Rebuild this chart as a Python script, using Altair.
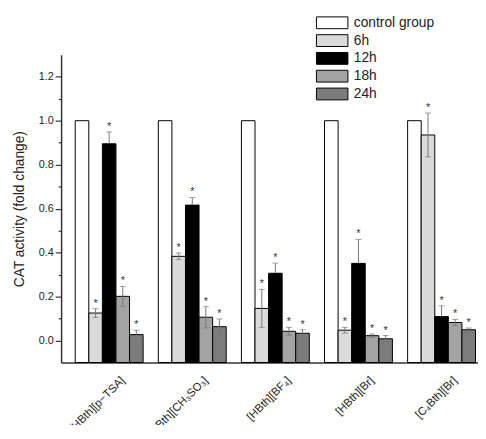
import altair as alt
import pandas as pd

groups = ["[HBth][p−TSA]", "[HBth][CH₃SO₃]", "[HBth][BF₄]", "[HBth][Br]", "[C₄Bth][Br]"]
series = ["control group", "6h", "12h", "18h", "24h"]
colors = ["#ffffff", "#dadada", "#000000", "#a3a3a3", "#7c7c7c"]

control = [1.0, 1.0, 1.0, 1.0, 1.0]
control_err = [0.0, 0.0, 0.0, 0.0, 0.0]
h6 = [0.125, 0.383, 0.146, 0.047, 0.935]
h6_err = [0.020, 0.015, 0.087, 0.013, 0.100]
h12 = [0.895, 0.616, 0.306, 0.351, 0.109]
h12_err = [0.054, 0.035, 0.046, 0.109, 0.049]
h18 = [0.201, 0.106, 0.042, 0.022, 0.082]
h18_err = [0.045, 0.048, 0.018, 0.007, 0.014]
h24 = [0.027, 0.063, 0.033, 0.008, 0.049]
h24_err = [0.020, 0.035, 0.016, 0.015, 0.008]

y_ticks = [0.0, 0.1, 0.2, 0.3, 0.4, 0.5, 0.6, 0.7, 0.8, 0.9, 1.0, 1.1, 1.2]

values = [control, h6, h12, h18, h24]
errors = [control_err, h6_err, h12_err, h18_err, h24_err]
rows = []
for gi, g in enumerate(groups):
    for s, v, e in zip(series, values, errors):
        rows.append({"group": g, "series": s, "value": v[gi], "err": e[gi],
                     "lo": v[gi] - e[gi], "hi": v[gi] + e[gi]})
df = pd.DataFrame(rows)

FONT = "Liberation Sans"
YTITLE = "CAT activity (fold change)"

x_enc = alt.X("group:N", sort=groups, title=None,
              scale=alt.Scale(paddingInner=0.183, paddingOuter=0.1, align=0.85),
              axis=alt.Axis(labelAngle=-45, labelFontSize=11.5, labelFont=FONT, labelColor="#222",
                            ticks=False, domain=True, domainColor="#333", domainWidth=1.5,
                            labelPadding=12, labelOffset=10))
xo_enc = alt.XOffset("series:N", sort=series,
                     scale=alt.Scale(domain=series, paddingInner=0, paddingOuter=0))
y_scale = alt.Scale(domain=[-0.1, 1.3], nice=False, zero=False)
y_axis = alt.Axis(values=y_ticks, grid=False, domain=True, domainColor="#333", domainWidth=1.5,
                  tickColor="#333", tickWidth=1.2,
                  tickSize={"condition": {"test": "round(datum.value*10) % 2 == 1", "value": 3}, "value": 6},
                  labelExpr="round(datum.value*10) % 2 == 0 ? format(datum.value, '.1f') : ''",
                  labelFontSize=11, labelFont=FONT, labelColor="#222", labelPadding=2,
                  titleFontSize=14, titleFont=FONT, titleFontWeight="normal",
                  titleColor="#222", titlePadding=12)

base = alt.Chart(df).encode(x=x_enc, xOffset=xo_enc)

bars = base.mark_bar(stroke="black", strokeWidth=1).encode(
    y=alt.Y("value:Q", scale=y_scale, title=YTITLE, axis=y_axis),
    y2=alt.datum(-0.1),
    fill=alt.Fill("series:N", sort=series, scale=alt.Scale(domain=series, range=colors),
                  legend=alt.Legend(orient="none", legendX=258.7, legendY=-39.5, title=None,
                                    padding=0, symbolType="M-1,-1H4.333V1H-1Z", symbolSize=144,
                                    symbolStrokeColor="black", symbolStrokeWidth=1,
                                    symbolOpacity=1, labelFontSize=14, labelFont=FONT,
                                    labelColor="#222", labelOffset=25, rowPadding=2.1)),
)

err = base.transform_filter(alt.datum.err > 0)
upper = err.mark_rule(color="#777", strokeWidth=1).encode(
    y=alt.Y("value:Q", scale=y_scale, title=YTITLE, axis=y_axis), y2="hi:Q")
lower = err.mark_rule(strokeWidth=1).encode(
    y=alt.Y("lo:Q", scale=y_scale, title=YTITLE, axis=y_axis), y2="value:Q",
    color=alt.condition(alt.datum.series == "12h", alt.value("black"), alt.value("#777")))
cap_hi = err.mark_tick(size=6, thickness=1, color="#777").encode(
    y=alt.Y("hi:Q", scale=y_scale, title=YTITLE, axis=y_axis))
cap_lo = err.mark_tick(size=6, thickness=1).encode(
    y=alt.Y("lo:Q", scale=y_scale, title=YTITLE, axis=y_axis),
    color=alt.condition(alt.datum.series == "12h", alt.value("black"), alt.value("#777")))
stars = err.mark_text(text="*", fontSize=11, font=FONT, color="#333", baseline="middle", dy=-5).encode(
    y=alt.Y("hi:Q", scale=y_scale, title=YTITLE, axis=y_axis))

chart = alt.layer(bars, upper, lower, cap_hi, cap_lo, stars).properties(
    width=424, height=313,
    autosize=alt.AutoSizeParams(type="none"),
    padding={"left": 54, "top": 44, "right": 0, "bottom": 60},
).configure_view(stroke=None)

chart.save("out.html", embed_options={"renderer": "svg", "actions": False})
